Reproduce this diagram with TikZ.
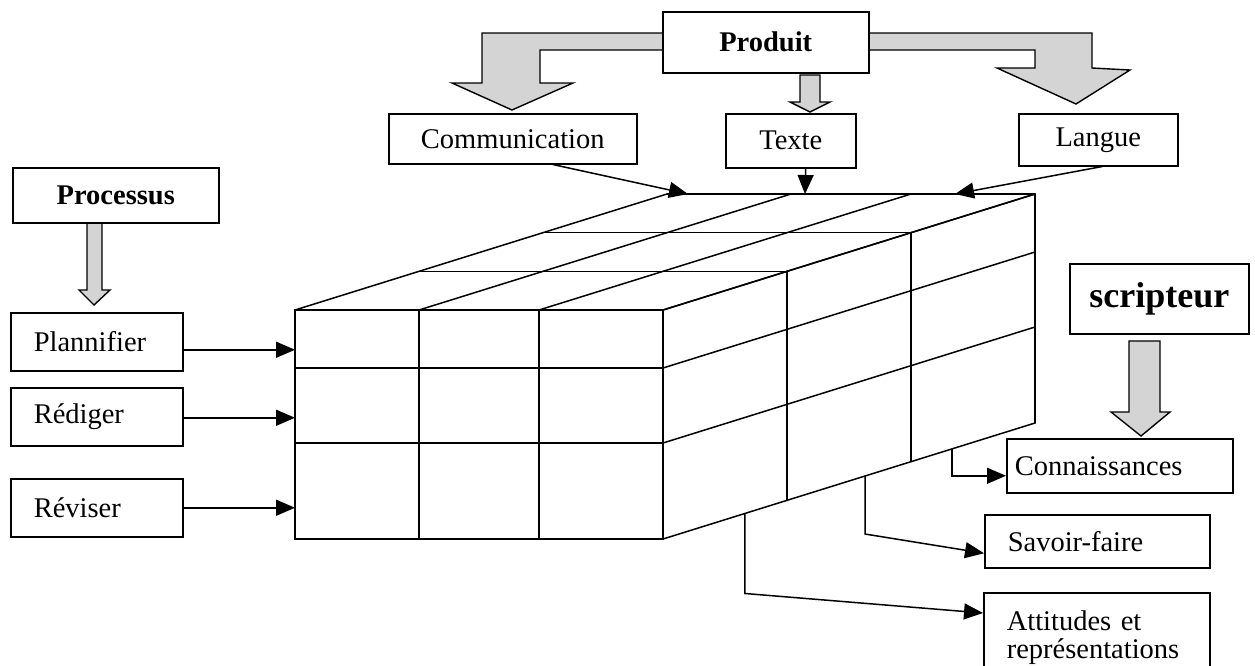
\documentclass[tikz,border=0pt]{standalone}
\usepackage{fontspec}
\setmainfont{Liberation Serif}
\usetikzlibrary{arrows.meta,calc}
\begin{document}
\begin{tikzpicture}[x=1pt,y=-1pt,
  every node/.style={font=\fontsize{28.5}{28}\selectfont},
  box/.style={draw, line width=1.5pt, fill=white, inner sep=0pt, align=center, anchor=north west},
  lbox/.style={box, align=left, inner xsep=23pt, text width=#1},
  title/.style={font=\fontsize{28.5}{32}\selectfont\bfseries},
  link/.style={line width=1.5pt, -{Triangle[length=19pt,width=16pt]}},
  bigarrow/.style={draw, line width=1.4pt, fill=black!17, line join=miter},
  grid/.style={line width=1.5pt, line cap=round}
]
\useasboundingbox (0,0) rectangle (1255,665);
\clip (0,0) rectangle (1255,665);

% broad shaded arrows (drawn first, boxes sit on top of their roots)
\path[bigarrow] (664,33) -- (482,33) -- (482,83) -- (452,83) -- (512,110)
  -- (573,83) -- (540,83) -- (540,50) -- (664,50) -- cycle;
\path[bigarrow] (866,33) -- (1092,33) -- (1092,68) -- (1130,70) -- (1076,104)
  -- (997,68) -- (1035,68) -- (1035,50) -- (866,50) -- cycle;
\path[bigarrow] (800,75) -- (800,102) -- (790,102) -- (810,112) -- (830,102)
  -- (820,102) -- (820,75) -- cycle;
\path[bigarrow] (87,220) -- (87,290) -- (79,290) -- (94,305) -- (110,290)
  -- (102,290) -- (102,220) -- cycle;
\path[bigarrow] (1129,341) -- (1129,412) -- (1111,412) -- (1141,436) -- (1170,412)
  -- (1160,412) -- (1160,341) -- cycle;

% boxes
\node[box,title,minimum width=206pt,minimum height=61pt] (prod) at (662,11) {Produit};
\node[box,minimum width=248pt,minimum height=50pt] (comm) at (388,113) {Communication};
\node[box,minimum width=130pt,minimum height=54pt] (texte) at (725,113) {Texte};
\node[box,minimum width=159pt,minimum height=52pt] (langue) at (1018,113) {Langue};
\node[box,title,minimum width=206pt,minimum height=55pt] (proc) at (12,167) {Processus};
\node[lbox=126pt,minimum height=58pt] (plan) at (10,312) {Plannifier};
\node[lbox=126pt,minimum height=58pt] (redi) at (10,387) {Rédiger};
\node[lbox=126pt,minimum height=58pt] (revi) at (10,478) {Réviser};
\node[box,font=\fontsize{36}{40}\selectfont\bfseries,minimum width=179pt,minimum height=70pt] (scri) at (1069,263) {scripteur};
\node[box,align=left,inner xsep=8pt,text width=210pt,minimum height=54pt] (conn) at (1006,438) {Connaissances};
\node[lbox=179pt,minimum height=53pt] (savo) at (984,514) {Savoir-faire};
\node[lbox=180pt,minimum height=90pt] (atti) at (983,592) {Attitudes et\\représentations};

% the block: front face
\draw[grid] (295,310) rectangle (663,539);
\draw[grid] (419,310) -- (419,539);
\draw[grid] (539,310) -- (539,539);
\draw[grid] (295,368) -- (663,368);
\draw[grid] (295,443) -- (663,443);
% top face
\foreach \x in {295,419,539,663} \draw[grid] (\x,310) -- ++(372,-116);
\foreach \k in {1,2,3} \draw[grid] ($(295,310)+\k*(124,-38.667)$) -- ++(368,0);
% right face
\foreach \y in {310,368,443,539} \draw[grid] (663,\y) -- ++(372,-116);
\foreach \k in {1,2,3} \draw[grid] ($(663,310)+\k*(124,-38.667)$) -- ++(0,229);

% anchor points on the block
\coordinate (FL) at (295,310);
\coordinate (FB) at (663,539);
\coordinate (BB) at (1035,423);
\coordinate (topC) at (688,194);
\coordinate (topT) at (805,194);
\coordinate (topL) at (955,194);
\coordinate (k1) at ($(FB)!0.777!(BB)$);
\coordinate (k2) at ($(FB)!0.543!(BB)$);
\coordinate (k3) at ($(FB)!0.22!(BB)$);

% connectors
\draw[link] ([xshift=40pt]comm.south) -- (topC);
\draw[link] ([xshift=15pt]texte.south) -- (topT);
\draw[link] ([xshift=4pt]langue.south) -- (topL);
\draw[link] ([yshift=-8pt]plan.east) -- ([yshift=-8pt]plan.east -| FL);
\draw[link] ([yshift=-1pt]redi.east) -- ([yshift=-1pt]redi.east -| FL);
\draw[link] (revi.east) -- (revi.east -| FL);
\draw[link] (k1) |- ([yshift=-10pt]conn.west);
\draw[link] (k2) -- ++(0,58) -- ([yshift=-12pt]savo.west);
\draw[link] (k3) -- ++(0,80) -- ([yshift=-21pt]atti.north west);
\end{tikzpicture}
\end{document}
